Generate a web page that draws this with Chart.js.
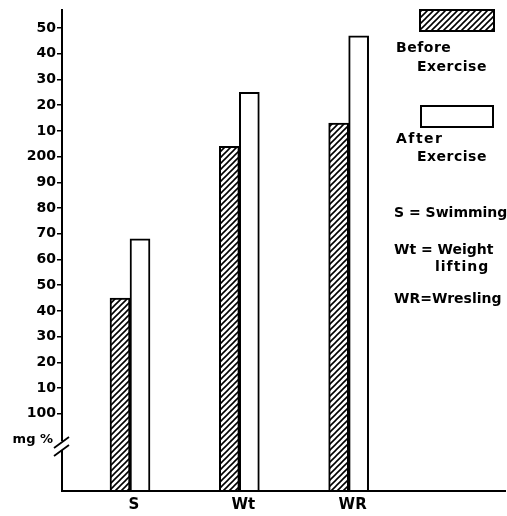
<!DOCTYPE html>
<html>
<head>
<meta charset="utf-8">
<script src="https://cdn.jsdelivr.net/npm/chart.js@4.4.1/dist/chart.umd.min.js"></script>
<style>
	html, body { margin: 0; padding: 0; background: #fff; }
	#wrap { width: 507px; height: 516px; }
</style>
</head>
<body>
<div id="wrap"><canvas id="myChart" width="507" height="516"></canvas></div>
<script>
// datos
const categories = ['S', 'Wt', 'WR'];
const beforeExercise = [145, 204, 213];
const afterExercise = [168, 225, 247];
const yTicks = [100, 110, 120, 130, 140, 150, 160, 170, 180, 190, 200, 210, 220, 230, 240, 250];
const yTickLabels = ['100', '10', '20', '30', '40', '50', '60', '70', '80', '90', '200', '10', '20', '30', '40', '50'];

const fontFam = '"DejaVu Sans", sans-serif';

function makeHatch() {
	var c = document.createElement('canvas');
	c.width = 6;
	c.height = 6;
	var g = c.getContext('2d');
	g.fillStyle = '#fff';
	g.fillRect(0, 0, 6, 6);
	g.strokeStyle = '#000';
	g.lineWidth = 1.6;
	g.beginPath();
	g.moveTo(0, 6); g.lineTo(6, 0);
	g.moveTo(-3, 3); g.lineTo(3, -3);
	g.moveTo(3, 9); g.lineTo(9, 3);
	g.stroke();
	return g.createPattern(c, 'repeat');
}

const hatch = makeHatch();

function toPoints(arr) {
	return arr.map(function (v, i) { return { x: i + 1, y: v }; });
}

function spaced(ctx, txt, x, y, sp) {
	ctx.letterSpacing = sp + 'px';
	ctx.fillText(txt, x, y);
	ctx.letterSpacing = '0px';
}

// leyenda, eje cortado y "mg %"
const extras = {
	id: 'extras',
	afterDraw: function (chart) {
		var ctx = chart.ctx;
		var yAxis = chart.scales.y;
		var x0 = yAxis.right;
		ctx.save();

		// corte del eje
		ctx.fillStyle = '#fff';
		ctx.fillRect(x0 - 3, 441, 6, 9);
		ctx.strokeStyle = '#000';
		ctx.lineWidth = 1.8;
		ctx.beginPath();
		ctx.moveTo(x0 - 8, 448); ctx.lineTo(x0 + 7, 437);
		ctx.moveTo(x0 - 8, 456); ctx.lineTo(x0 + 7, 445);
		ctx.stroke();

		ctx.fillStyle = '#000';
		ctx.font = 'bold 13px ' + fontFam;
		ctx.textBaseline = 'middle';
		ctx.textAlign = 'right';
		ctx.fillText('mg %', x0 - 9, 440);

		// leyenda
		ctx.textAlign = 'left';
		ctx.lineWidth = 2;
		ctx.fillStyle = hatch;
		ctx.fillRect(420, 10, 74, 21);
		ctx.strokeRect(420, 10, 74, 21);
		ctx.fillStyle = '#fff';
		ctx.fillRect(421, 106, 72, 21);
		ctx.strokeRect(421, 106, 72, 21);

		ctx.fillStyle = '#000';
		ctx.font = 'bold 14px ' + fontFam;
		spaced(ctx, 'Before', 396, 48, 0.5);
		spaced(ctx, 'Exercise', 417, 67, 0.5);
		spaced(ctx, 'After', 396, 139, 1.5);
		spaced(ctx, 'Exercise', 417, 157, 0.5);
		ctx.fillText('S = Swimming', 394, 213);
		ctx.fillText('Wt = Weight', 394, 250);
		spaced(ctx, 'lifting', 435, 267, 1);
		ctx.fillText('WR=Wresling', 394, 299);
		ctx.restore();
	}
};

const config = {
	type: 'bar',
	data: {
		datasets: [{
			label: 'Before Exercise',
			data: toPoints(beforeExercise),
			backgroundColor: hatch,
			borderColor: '#000',
			borderWidth: 2,
			borderSkipped: 'bottom',
			barThickness: 20,
			base: 70
		}, {
			label: 'After Exercise',
			data: toPoints(afterExercise),
			backgroundColor: '#fff',
			borderColor: '#000',
			borderWidth: 2,
			borderSkipped: 'bottom',
			barThickness: 20,
			base: 70
		}]
	},
	options: {
		responsive: false,
		animation: false,
		devicePixelRatio: 1,
		layout: { padding: { top: 10, right: 2, left: 0, bottom: 0 } },
		plugins: {
			legend: { display: false },
			tooltip: { enabled: false }
		},
		scales: {
			x: {
				type: 'linear',
				offset: false,
				min: 0.378,
				max: 4.43,
				afterBuildTicks: function (axis) {
					axis.ticks = categories.map(function (c, i) { return { value: i + 1 }; });
				},
				ticks: {
					callback: function (v) { return categories[v - 1]; },
					color: '#000',
					font: { family: fontFam, size: 15, weight: 'bold' },
					padding: 5,
					labelOffset: 4,
					maxRotation: 0
				},
				grid: { display: false, drawTicks: false },
				border: { color: '#000', width: 2, z: 1 },
				afterFit: function (s) { s.height = 25; }
			},
			y: {
				min: 70,
				max: 257,
				afterBuildTicks: function (axis) {
					axis.ticks = yTicks.map(function (v) { return { value: v }; });
				},
				ticks: {
					callback: function (v) { return yTickLabels[yTicks.indexOf(v)]; },
					color: '#000',
					font: { family: fontFam, size: 14, weight: 'bold' },
					padding: 1
				},
				grid: { drawOnChartArea: false, drawTicks: true, tickLength: 5, color: '#000', lineWidth: 1.5 },
				border: { color: '#000', width: 2, z: 1 },
				afterFit: function (s) { s.width = 62; }
			}
		}
	},
	plugins: [extras]
};

const myChart = new Chart(document.getElementById('myChart'), config);
</script>
</body>
</html>
